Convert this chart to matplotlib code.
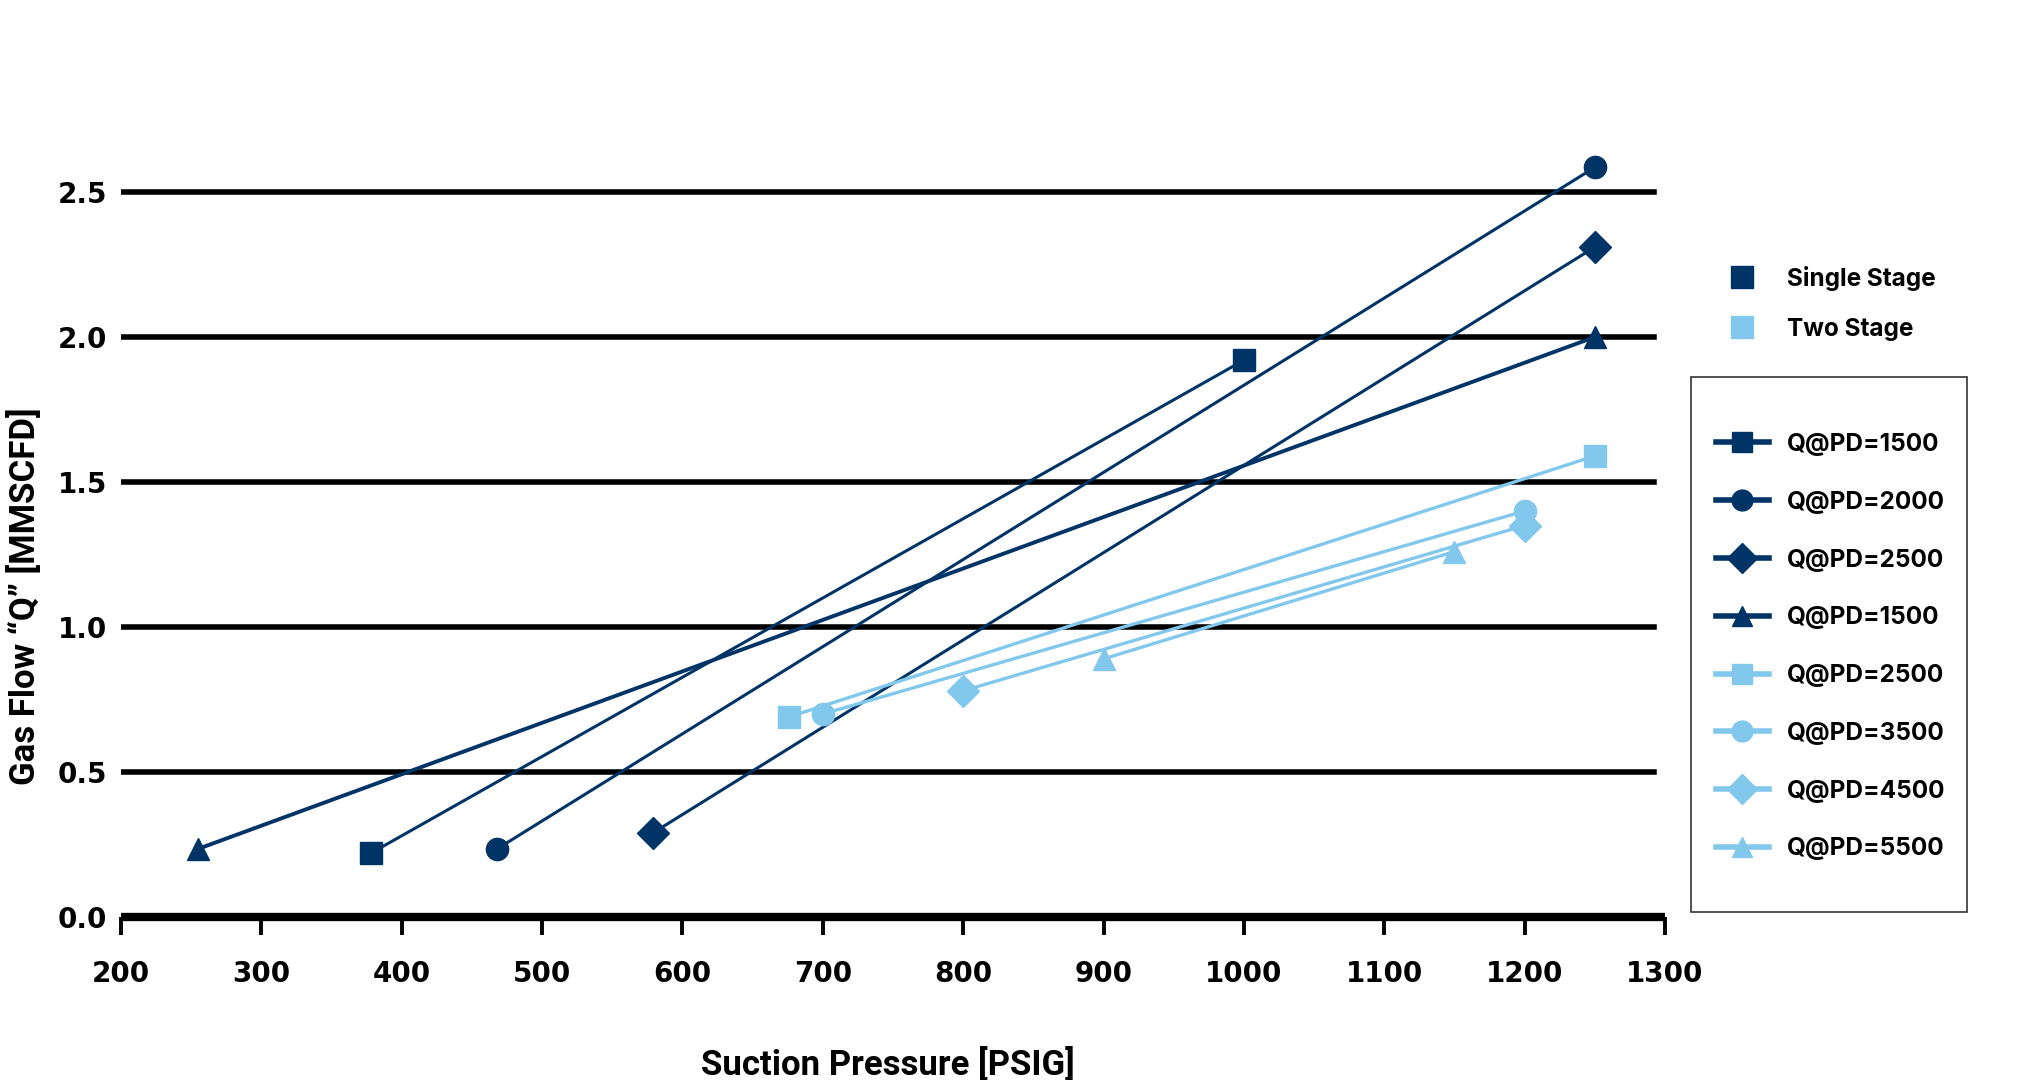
import matplotlib
matplotlib.use("Agg")
import matplotlib.pyplot as plt
from matplotlib.lines import Line2D
from matplotlib.patches import Rectangle

# single stage curves (suction pressure -> gas flow)
single_labels = ["Q@PD=1500", "Q@PD=2000", "Q@PD=2500", "Q@PD=1500"]
single_markers = ["s", "o", "D", "^"]
single_psig = [[378, 1000], [468, 1250], [579, 1250], [255, 1250]]
single_q = [[0.22, 1.92], [0.235, 2.585], [0.29, 2.31], [0.235, 2.0]]

# two stage curves
two_labels = ["Q@PD=2500", "Q@PD=3500", "Q@PD=4500", "Q@PD=5500"]
two_markers = ["s", "o", "D", "^"]
two_psig = [[676, 1250], [700, 1200], [800, 1200], [900, 1150]]
two_q = [[0.69, 1.59], [0.70, 1.40], [0.78, 1.35], [0.89, 1.26]]

x_ticks = [200, 300, 400, 500, 600, 700, 800, 900, 1000, 1100, 1200, 1300]
y_ticks = [0.0, 0.5, 1.0, 1.5, 2.0, 2.5]
stage_labels = ["Single Stage", "Two Stage"]

DARK = "#003466"
LIGHT = "#82C8EC"
W, H = 2018, 1080

fig = plt.figure(figsize=(W / 100, H / 100), dpi=100)
ax = fig.add_axes([121 / W, 1 - 917 / H, 1544 / W, 2.8 * 290 / H])

for yv in y_ticks[1:]:
    ax.axhline(yv, xmin=0, xmax=0.993, color="black", linewidth=4, zorder=1)

single_lw = [2.2, 2.2, 2.2, 2.8]
for xs, qs, m, lw in zip(single_psig, single_q, single_markers, single_lw):
    ax.plot(xs, qs, color=DARK, linewidth=lw, marker=m, markersize=16,
            zorder=3, clip_on=False)

for xs, qs, m in zip(two_psig, two_q, two_markers):
    ax.plot(xs, qs, color=LIGHT, linewidth=2.4, marker=m, markersize=16,
            zorder=3, clip_on=False)

ax.set_xlim(200, 1300)
ax.set_ylim(0, 2.8)
ax.set_xticks(x_ticks)
ax.set_yticks(y_ticks)
ax.set_yticklabels([f"{v:.1f}" for v in y_ticks])

for side in ["top", "right", "left"]:
    ax.spines[side].set_visible(False)
ax.spines["bottom"].set_linewidth(6)
ax.spines["bottom"].set_capstyle("butt")

ax.tick_params(axis="x", direction="out", length=13, width=2.8, pad=18,
               labelsize=20, color="black")
ax.tick_params(axis="y", length=0, pad=10, labelsize=20)
for lab in ax.get_xticklabels() + ax.get_yticklabels():
    lab.set_fontfamily("DejaVu Sans")
    lab.set_fontweight("bold")

ax.set_xlabel("Suction Pressure [PSIG]", fontsize=25, fontweight="bold",
              family="Roboto")
ax.xaxis.set_label_coords(888 / W, 1 - 1064 / H, transform=fig.transFigure)
ax.xaxis.label.set_va("center")
ax.set_ylabel("Gas Flow \u201cQ\u201d [MMSCFD]", fontsize=25, fontweight="bold",
              family="Roboto")
ax.yaxis.set_label_coords(24 / W, 1 - 596 / H, transform=fig.transFigure)
ax.yaxis.label.set_va("center")

# legend frame drawn as a box in figure space
fig.patches.append(Rectangle((1691 / W, 1 - 912 / H), 276 / W, 535 / H,
                             transform=fig.transFigure, facecolor="white",
                             edgecolor="#333333", linewidth=1.2, zorder=0))

leg_font = {"family": "Inter", "weight": "bold", "size": 17.5}

stage_handles = [Line2D([], [], linestyle="none", marker="s", markersize=16, color=c)
                 for c in [DARK, LIGHT]]
leg1 = fig.legend(stage_handles, stage_labels, loc="upper left",
                  bbox_to_anchor=(1716 / W, 1 - 266 / H), frameon=False,
                  prop=leg_font, borderpad=0, borderaxespad=0,
                  handlelength=2.18, handletextpad=0.74, labelspacing=1.1)

curve_handles = []
for m in single_markers:
    curve_handles.append(Line2D([], [], color=DARK, linewidth=4, marker=m, markersize=15))
for m in two_markers:
    curve_handles.append(Line2D([], [], color=LIGHT, linewidth=4, marker=m, markersize=15))
leg2 = fig.legend(curve_handles, single_labels + two_labels, loc="upper left",
                  bbox_to_anchor=(1716 / W, 1 - 433 / H), frameon=False,
                  prop=leg_font, borderpad=0, borderaxespad=0,
                  handlelength=2.18, handletextpad=0.74, labelspacing=1.43)

fig.savefig("out.png", dpi=100, facecolor="white")
